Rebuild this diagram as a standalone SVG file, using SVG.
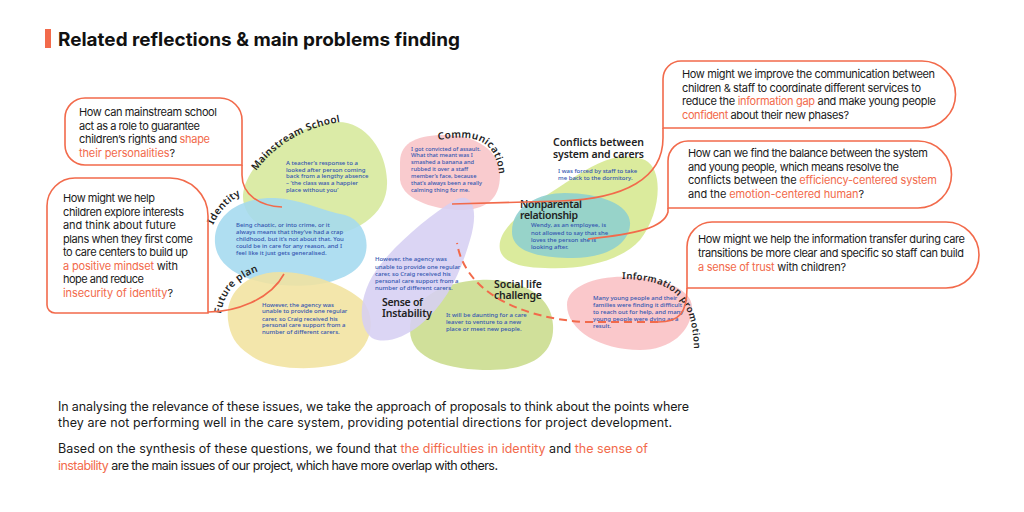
<svg xmlns="http://www.w3.org/2000/svg" width="1024" height="512" viewBox="0 0 1024 512">
<defs>
<style>
.q{font-family:Inter,"Liberation Sans",sans-serif;font-size:11px;fill:#1a1a1a}
.p{font-family:Inter,"Liberation Sans",sans-serif;font-size:12.5px;fill:#1a1a1a}
.hl{fill:#f26a4b}
.box{fill:none;stroke:#f26a4b;stroke-width:1.6}
.con{fill:none;stroke:#f26a4b;stroke-width:1.6}
.dash{fill:none;stroke:#f26a4b;stroke-width:2;stroke-dasharray:8 5}
.lbl{font-family:"Noto Sans","DejaVu Sans",sans-serif;font-weight:600;font-size:10.5px;fill:#222}
.arc{font-family:"Noto Sans","DejaVu Sans",sans-serif;font-weight:600;font-size:10px;fill:#222;letter-spacing:0.4px}
.body{font-family:"Noto Sans","DejaVu Sans",sans-serif;font-size:6px;font-weight:500;fill:#3355b0}
.blob{opacity:.88}
</style>
<path id="arcMain" d="M256,171 Q288,128 348,121"/>
<path id="arcId" d="M213,225 Q225,199 256,188"/>
<path id="arcFut" d="M221,314 Q226,276 274,267"/>
<path id="arcCom" d="M438,140 C478,133 500,140 500,188"/>
<path id="arcInf" d="M622,279 C668,280 694,292 694,355"/>
</defs>
<rect width="1024" height="512" fill="#ffffff"/>

<g id="title">
<rect x="45" y="29" width="6" height="19" fill="#f26a4b"/>
<text x="58" y="46" font-family="Inter,'Liberation Sans',sans-serif" font-weight="700" font-size="18.5" fill="#111" textLength="402" lengthAdjust="spacingAndGlyphs">Related reflections &amp; main problems finding</text>
</g>

<g id="node-mainstream">
<path class="blob" fill="#d6e89b" d="M243,195 C245,165 290,125 335,122 C365,120 386,150 387,180 C389,215 355,235 315,238 C280,240 242,225 243,195 Z"/>
<text class="arc"><textPath href="#arcMain">Mainstream School</textPath></text>
<text class="body"><tspan x="286" y="165">A teacher’s response to a</tspan><tspan x="286" y="171.5">looked after person coming</tspan><tspan x="286" y="178">back from a lengthy absence</tspan><tspan x="286" y="185">– ‘the class was a happier</tspan><tspan x="286" y="192">place without you’</tspan></text>
</g>

<g id="node-identity">
<path class="blob" fill="#a4d9ef" d="M215,243 C213,215 240,197 275,198 C300,199 320,210 345,215 C368,222 372,250 360,265 C345,283 310,288 280,285 C245,282 217,268 215,243 Z"/>
<text class="arc"><textPath href="#arcId">Identity</textPath></text>
<text class="body"><tspan x="236" y="226.5">Being chaotic, or into crime, or it</tspan><tspan x="236" y="234">always means that they’ve had a crap</tspan><tspan x="236" y="241">childhood, but it’s not about that. You</tspan><tspan x="236" y="248">could be in care for any reason, and I</tspan><tspan x="236" y="255">feel like it just gets generalised.</tspan></text>
</g>

<g id="node-future">
<path class="blob" fill="#f1e29f" d="M228,320 C225,290 250,272 280,272 C310,272 345,285 362,300 C378,318 372,350 345,362 C315,372 270,370 250,355 C235,345 230,335 228,320 Z"/>
<text class="arc"><textPath href="#arcFut">Future plan</textPath></text>
<text class="body"><tspan x="262" y="306.5">However, the agency was</tspan><tspan x="262" y="313">unable to provide one regular</tspan><tspan x="262" y="320.5">carer, so Craig received his</tspan><tspan x="262" y="327">personal care support from a</tspan><tspan x="262" y="334">number of different carers.</tspan></text>
</g>

<g id="node-communication">
<path class="blob" fill="#f8c4c7" d="M400,162 C400,141 420,135 445,135 C475,135 500,150 500,175 C500,200 485,210 460,210 C440,210 403,202 400,180 Z"/>
<text class="arc"><textPath href="#arcCom">Communication</textPath></text>
<text class="body" style="font-size:5.7px"><tspan x="411" y="150.5">I got convicted of assault.</tspan><tspan x="411" y="157">What that meant was I</tspan><tspan x="411" y="164">smashed a banana and</tspan><tspan x="411" y="170.5">rubbed it over a staff</tspan><tspan x="411" y="178">member’s face, because</tspan><tspan x="411" y="184.5">that’s always been a really</tspan><tspan x="411" y="191.5">calming thing for me.</tspan></text>
</g>

<g id="node-social">
<path class="blob" fill="#c9dc8c" d="M410,330 C410,300 440,282 480,280 C520,278 552,295 553,325 C555,355 530,370 490,370 C450,370 410,360 410,330 Z"/>
<text class="lbl" x="494" y="288" textLength="48">Social life</text>
<text class="lbl" x="494" y="299" textLength="48">challenge</text>
<text class="body"><tspan x="446" y="316.5">It will be daunting for a care</tspan><tspan x="446" y="324">leaver to venture to a new</tspan><tspan x="446" y="331">place or meet new people.</tspan></text>
</g>

<g id="node-instability">
<path class="blob" fill="#d6cff2" opacity=".8" d="M372,338 C355,325 360,290 380,265 C400,240 430,215 455,200 C475,190 478,215 470,240 C460,275 445,305 420,325 C405,337 385,345 372,338 Z"/>
<text class="body"><tspan x="375" y="261">However, the agency was</tspan><tspan x="375" y="268.5">unable to provide one regular</tspan><tspan x="375" y="276">carer, so Craig received his</tspan><tspan x="375" y="283">personal care support from a</tspan><tspan x="375" y="290">number of different carers.</tspan></text>
<text class="lbl" x="382" y="306" textLength="41">Sense of</text>
<text class="lbl" x="382" y="317" textLength="50">Instability</text>
</g>

<g id="node-conflicts">
<path class="blob" fill="#d6e88f" d="M500,250 C495,225 540,200 570,180 C595,163 620,150 645,160 C665,170 660,215 640,240 C620,262 580,270 545,268 C520,268 503,262 500,250 Z"/>
<text class="lbl" x="553" y="146" textLength="91">Conflicts between</text>
<text class="lbl" x="553" y="157.5" textLength="91">system and carers</text>
<text class="body"><tspan x="558" y="173">I was forced by staff to take</tspan><tspan x="558" y="180">me back to the dormitory.</tspan></text>
</g>

<g id="node-nonparental">
<path class="blob" fill="#8dcfcf" d="M512,232 C512,205 540,193 565,193 C600,193 632,205 630,225 C628,248 600,258 573,258 C540,258 512,252 512,232 Z"/>
<text class="lbl" x="520" y="208" textLength="62">Nonparental</text>
<text class="lbl" x="520" y="219" textLength="58">relationship</text>
<text class="body"><tspan x="531" y="227">Wendy, as an employee, is</tspan><tspan x="531" y="234.5">not allowed to say that she</tspan><tspan x="531" y="241.5">loves the person she is</tspan><tspan x="531" y="249">looking after.</tspan></text>
</g>

<g id="node-information">
<path class="blob" fill="#f9c0c4" d="M567,305 C567,285 600,275 630,277 C665,278 692,290 692,307 C692,332 670,350 640,350 C600,350 567,330 567,305 Z"/>
<text class="arc" style="font-size:9.5px"><textPath href="#arcInf">Information promotion</textPath></text>
<text class="body"><tspan x="593" y="300">Many young people and their</tspan><tspan x="593" y="307">families were finding it difficult</tspan><tspan x="593" y="314">to reach out for help, and many</tspan><tspan x="593" y="321">young people were dying as a</tspan><tspan x="593" y="328">result.</tspan></text>
</g>

<g id="callout-school">
<path class="box" d="M85,98 H220 A22,22 0 0 1 242,120 V165 H85 A20,20 0 0 1 65,145 V118 A20,20 0 0 1 85,98 Z"/>
<text class="q" x="79" y="116" textLength="138">How can mainstream school</text>
<text class="q" x="79" y="129.5" textLength="121">act as a role to guarantee</text>
<text class="q" x="79" y="143" textLength="131">children’s rights and <tspan class="hl">shape</tspan></text>
<text class="q" x="79" y="156.5" textLength="96"><tspan class="hl">their personalities</tspan>?</text>
</g>

<g id="callout-identity">
<path class="box" d="M75,178 H170 A38,38 0 0 1 208,216 V313 H55 A8,8 0 0 1 47,305 V206 A28,28 0 0 1 75,178 Z"/>
<text class="q" x="63" y="202" textLength="92">How might we help</text>
<text class="q" x="63" y="215.5" textLength="121">children explore interests</text>
<text class="q" x="63" y="229" textLength="113">and think about future</text>
<text class="q" x="63" y="242.5" textLength="130">plans when they first come</text>
<text class="q" x="63" y="256" textLength="125">to care centers to build up</text>
<text class="q" x="63" y="269.5" textLength="115"><tspan class="hl">a positive mindset</tspan> with</text>
<text class="q" x="63" y="283" textLength="81">hope and reduce</text>
<text class="q" x="63" y="296.5" textLength="110"><tspan class="hl">insecurity of identity</tspan>?</text>
</g>

<g id="callout-communication">
<path class="box" d="M681,61 H922 A33.5,33.5 0 0 1 922,128 H663 V79 A18,18 0 0 1 681,61 Z"/>
<text class="q" x="682" y="78" textLength="253">How might we improve the communication between</text>
<text class="q" x="682" y="91.5" textLength="239">children &amp; staff to coordinate different services to</text>
<text class="q" x="682" y="105" textLength="254">reduce the <tspan class="hl">information gap</tspan> and make young people</text>
<text class="q" x="682" y="118.5" textLength="167"><tspan class="hl">confident</tspan> about their new phases?</text>
</g>

<g id="callout-conflicts">
<path class="box" d="M688,141 H918 A33.5,33.5 0 0 1 918,208 H668 V161 A20,20 0 0 1 688,141 Z"/>
<text class="q" x="688" y="157" textLength="240">How can we find the balance between the system</text>
<text class="q" x="688" y="170.5" textLength="211">and young people, which means resolve the</text>
<text class="q" x="688" y="184" textLength="249">conflicts between the <tspan class="hl">efficiency-centered system</tspan></text>
<text class="q" x="688" y="197.5" textLength="176">and the <tspan class="hl">emotion-centered human</tspan>?</text>
</g>

<g id="callout-information">
<path class="box" d="M712,222 H946 A33,33 0 0 1 946,288 H687 V247 A25,25 0 0 1 712,222 Z"/>
<text class="q" x="698" y="243" textLength="267">How might we help the information transfer during care</text>
<text class="q" x="698" y="257" textLength="266">transitions be more clear and specific so staff can build</text>
<text class="q" x="698" y="271" textLength="148"><tspan class="hl">a sense of trust</tspan> with children?</text>
</g>

<g id="connectors">
<path class="con" d="M242,165 V175 C242,195 260,206 282,207"/>
<path class="con" d="M208,312 C235,312 270,300 284,274"/>
<path class="con" d="M663,128 V138 C663,178 625,199 560,201 L452,204"/>
<path class="con" d="M668,208 V212 C664,228 635,234 588,239"/>
<path class="con" d="M687,288 C687,312 680,322 658,322"/>
<path class="dash" d="M658,322 L585,322 C520,318 465,292 457,243"/>
</g>

<g id="summary">
<text class="p" x="58" y="411" textLength="631">In analysing the relevance of these issues, we take the approach of proposals to think about the points where</text>
<text class="p" x="58" y="427" textLength="614">they are not performing well in the care system, providing potential directions for project development.</text>
<text class="p" x="58" y="453" textLength="590">Based on the synthesis of these questions, we found that <tspan class="hl">the difficulties in identity</tspan> and <tspan class="hl">the sense of</tspan></text>
<text class="p" x="58" y="469.5" textLength="440"><tspan class="hl">instability</tspan> are the main issues of our project, which have more overlap with others.</text>
</g>
</svg>
